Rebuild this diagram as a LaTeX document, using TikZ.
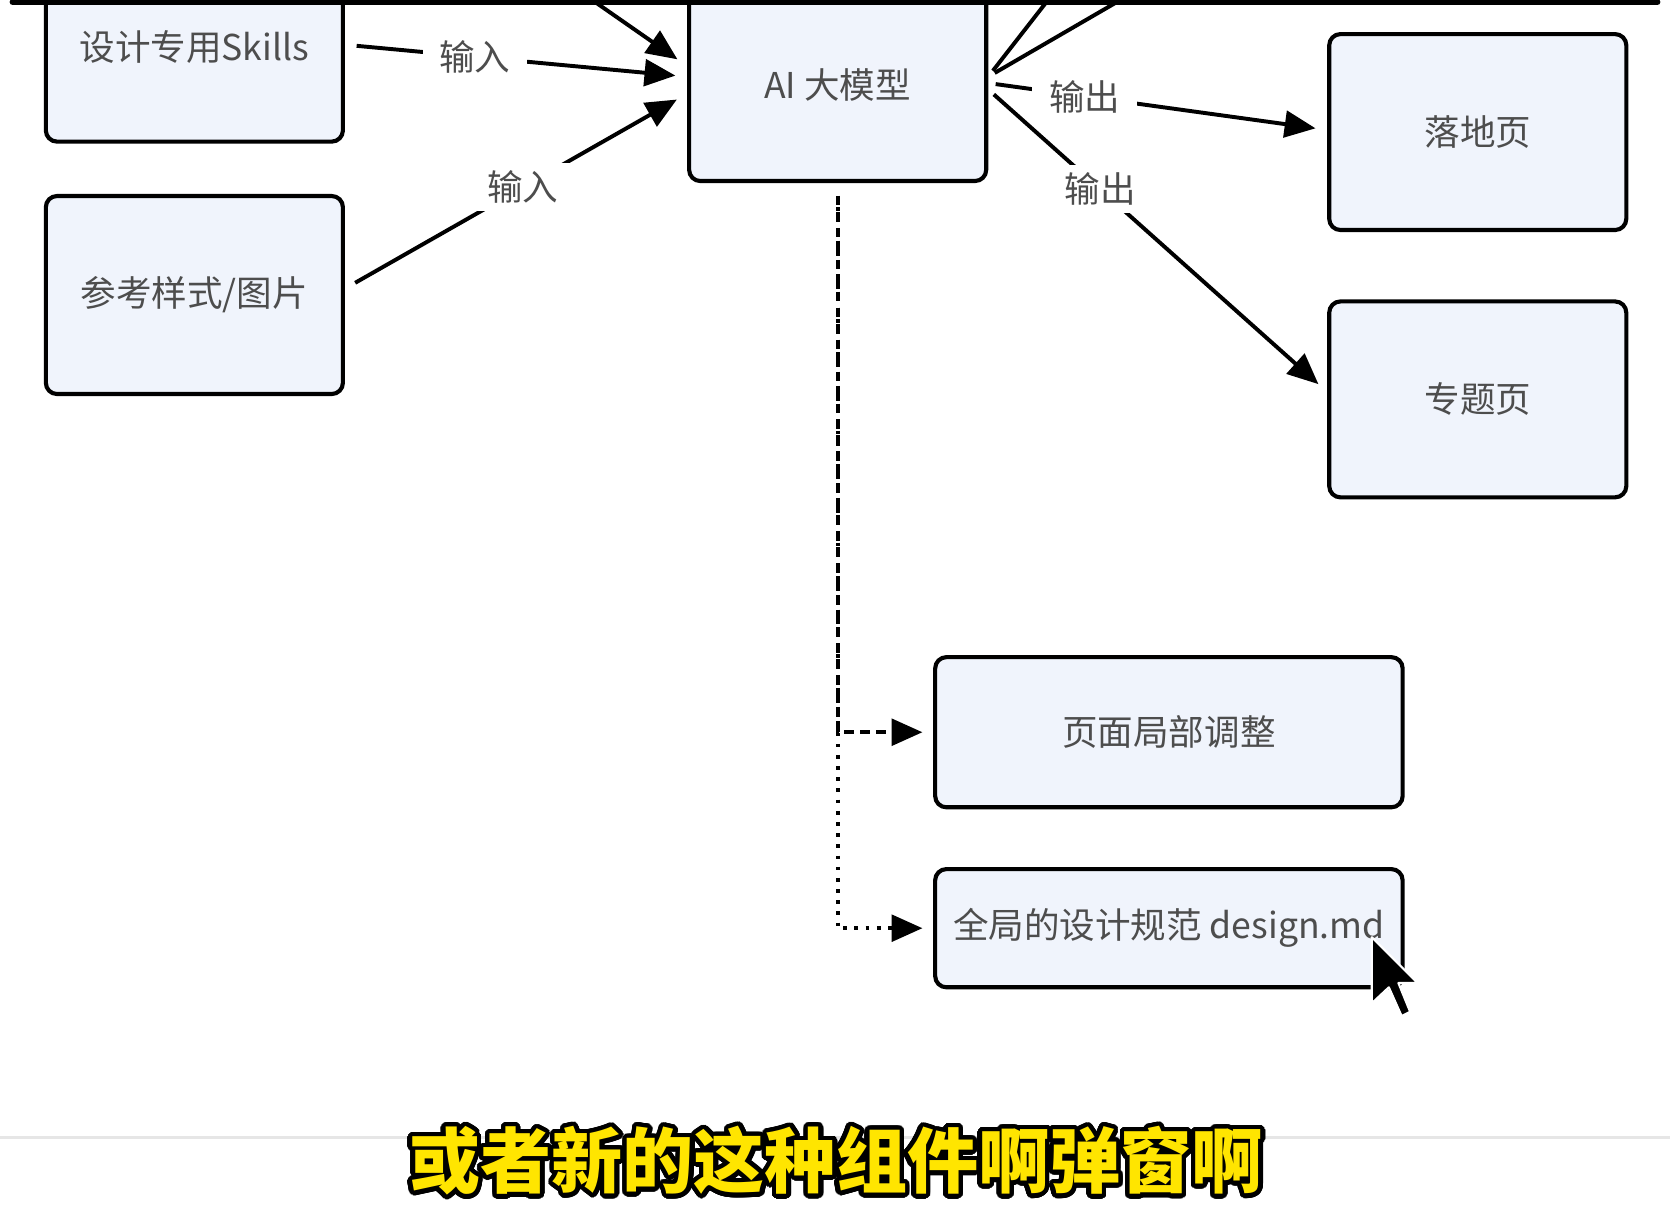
\documentclass[tikz,border=0pt]{standalone}
\usepackage{fontspec}
\newfontfamily\cjk{Noto Sans CJK SC}
\usepackage{contour}
\usepackage{tikz}
\usetikzlibrary{arrows.meta, positioning, calc}
\definecolor{BoxFill}{HTML}{F0F4FC}
\definecolor{LabelGray}{HTML}{4D4D4D}
\definecolor{SubYellow}{HTML}{FFE500}
\definecolor{RuleGray}{HTML}{E6E6E6}
\contourlength{2.4pt}
\contournumber{40}
\tikzset{
  % Box styles
  flowbox/.style={rectangle, rounded corners=6pt, draw=black, line width=2.2pt, fill=BoxFill, minimum width=5.58cm, minimum height=3.68cm, font=\cjk\fontsize{19}{23}\selectfont, text=LabelGray, align=center},
  widebox/.style={flowbox, minimum width=8.78cm},
  % Arrow styles
  arrow/.style={-{Triangle[length=0.58cm, width=0.5cm]}, line width=2.1pt, shorten >=0.22cm, shorten <=0.22cm},
  plainline/.style={line width=2.1pt, shorten <=0.14cm},
  dashedarrow/.style={arrow, shorten <=0pt, shorten >=0.2cm, dash pattern=on 0.18cm off 0.12cm},
  dottedarrow/.style={arrow, shorten <=0pt, shorten >=0.2cm, dash pattern=on 0.07cm off 0.14cm},
  % Label styles
  edgelabel/.style={fill=white, inner xsep=9pt, inner ysep=4pt, font=\cjk\fontsize{19}{23}\selectfont, text=LabelGray}
}

\begin{document}
\begin{tikzpicture}[x=0.02cm, y=-0.02cm]
  \useasboundingbox (0,0) rectangle (1568,1149);
  \clip (0,0) rectangle (1568,1149);
  % Input boxes
  \node[flowbox, minimum height=3.56cm] (skills) at (182.5,44) {设计专用Skills};
  \node[flowbox, minimum height=3.72cm] (refstyle) at (182.5,277) {参考样式/图片};
  % Model
  \node[flowbox, minimum height=3.6cm] (model) at (786.5,80) {AI 大模型};
  % Output boxes
  \node[flowbox] (landing) at (1387.5,124) {落地页};
  \node[flowbox] (topic) at (1387.5,375) {专题页};
  \node[widebox, minimum height=2.82cm] (partial) at (1097.5,687.5) {页面局部调整};
  \node[widebox, minimum height=2.22cm] (designmd) at (1097.5,871.5) {全局的设计规范 design.md};

  % Off-screen ends
  \coordinate (topin) at (556,0);
  \coordinate (topout1) at (984,0);
  \coordinate (topout2) at (1052,0);

  % Inputs
  \draw[arrow, shorten <=0pt] (topin) -- ($(model.west)+(0,-18)$);
  \draw[arrow] ($(skills.east)+(0,-2)$) -- ($(model.west)+(0,-8)$) node[edgelabel, pos=0.38] {输入};
  \draw[arrow] ($(refstyle.east)+(0,-6)$) -- ($(model.west)+(0,8)$) node[edgelabel, pos=0.52] {输入};

  % Outputs
  \draw[plainline] ($(model.east)+(0,-8)$) -- (topout1);
  \draw[plainline] ($(model.east)+(0,-8)$) -- (topout2);
  \draw[arrow, shorten <=0.14cm] ($(model.east)+(0,4)$) -- ($(topic.west)+(0,-7)$) node[edgelabel, pos=0.33] {输出};
  \draw[arrow, shorten <=0.14cm] ($(model.east)+(0,-2)$) -- ($(landing.west)+(0,-2)$) node[edgelabel, pos=0.285] {输出};

  % Refinements
  \draw[dashedarrow] ($(model.south)+(0,12)$) |- (partial.west);
  \draw[dottedarrow] ($(model.south)+(0,12)$) |- (designmd.west);

  % Frame lines
  \draw[black, line width=0.12cm, line cap=round] (12,2) -- (1556,2);
  \draw[RuleGray, line width=0.06cm] (0,1068) -- (1568,1068);

  % Subtitle
  \node[font=\cjk\bfseries\fontsize{38}{44}\selectfont] (subtitle) at (785,1092) {\contour{black}{\textcolor{SubYellow}{或者新的这种组件啊弹窗啊}}};

  % Mouse pointer
  \draw[white, line width=0.04cm, fill=black, line join=round] (1288,880) -- (1288,942) -- (1304,927) -- (1316,954) -- (1324,950) -- (1313,923) -- (1331,923) -- cycle;
\end{tikzpicture}
\end{document}
